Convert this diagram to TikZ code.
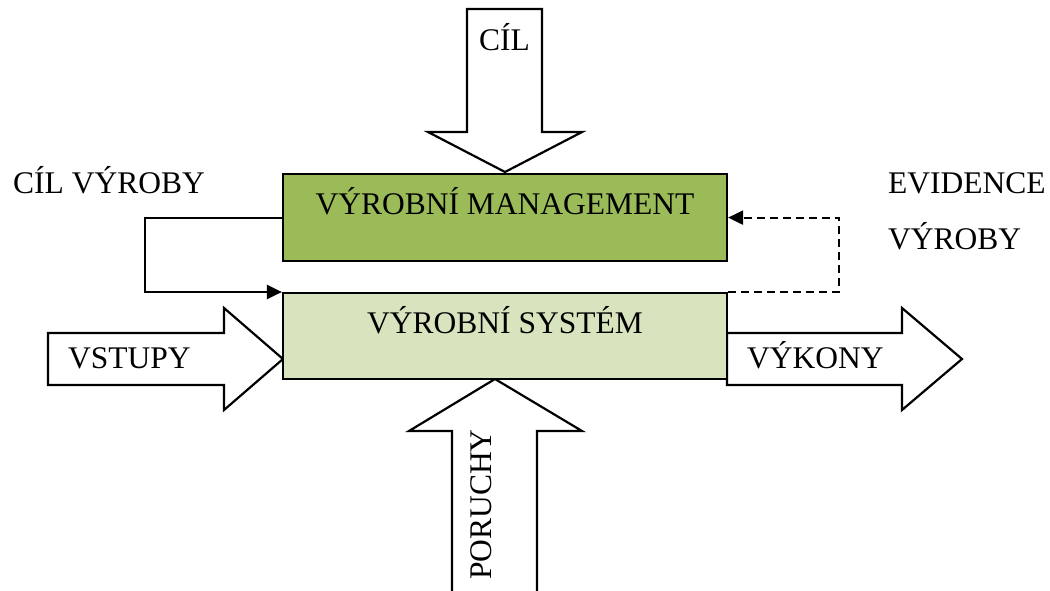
\documentclass[tikz,border=0pt]{standalone}
\usepackage{fontspec}
\setmainfont{Liberation Serif}
\usetikzlibrary{arrows.meta}
\definecolor{mgmtgreen}{HTML}{9BBB59}
\definecolor{sysgreen}{HTML}{D7E4BD}
\begin{document}
\begin{tikzpicture}[x=1pt,y=-1pt,
  every node/.style={font=\fontsize{31.5}{36}\selectfont},
  lbl/.style={inner sep=0pt,anchor=base west},
  boxnode/.style={draw=black,line width=2.2pt,minimum width=444pt,inner xsep=0pt,inner ysep=10pt,text height=30pt,anchor=north},
  blockarrow/.style={draw=black,line width=2.2pt,fill=white,line join=miter},
  conn/.style={draw=black,line width=2.2pt,-{Triangle[length=15pt,width=14pt]}},
  dconn/.style={conn,dash pattern=on 8pt off 5pt}]
\useasboundingbox (0,0) rectangle (1050,590);
% block arrows
\draw[blockarrow] (467,9) -- (542,9) -- (542,132) -- (582,132) -- (505,172) -- (428,132) -- (467,132) -- cycle;
\draw[blockarrow] (48,333) -- (224,333) -- (224,308) -- (283,359) -- (224,410) -- (224,385) -- (48,385) -- cycle;
\draw[blockarrow] (727,333) -- (902,333) -- (902,308) -- (962,359) -- (902,410) -- (902,385) -- (727,385) -- cycle;
\path[blockarrow] (452,595) -- (452,431) -- (409,431) -- (495,379) -- (582,431) -- (537,431) -- (537,595);
% boxes
\node[boxnode,fill=mgmtgreen,text depth=37pt] (mgmt) at (505,173) {VÝROBNÍ MANAGEMENT};
\node[boxnode,fill=sysgreen,text depth=36pt] (sys) at (505,292) {VÝROBNÍ SYSTÉM};
% connectors
\draw[conn] (mgmt.west) -- ++(-137,0) |- (sys.north west);
\draw[dconn] (sys.north east) -- ++(111,0) |- (mgmt.east);
% labels
\node[lbl] (cil) at (479,50) {CÍL};
\node[lbl] (cilvyroby) at (13,193) {CÍL VÝROBY};
\node[lbl] (evidence) at (888,193) {EVIDENCE};
\node[lbl] (evvyroby) at (888,249) {VÝROBY};
\node[lbl] (vstupy) at (68,368) {VSTUPY};
\node[lbl] (vykony) at (747,368) {VÝKONY};
\node[lbl,rotate=90] (poruchy) at (491,580) {PORUCHY};
\end{tikzpicture}
\end{document}
